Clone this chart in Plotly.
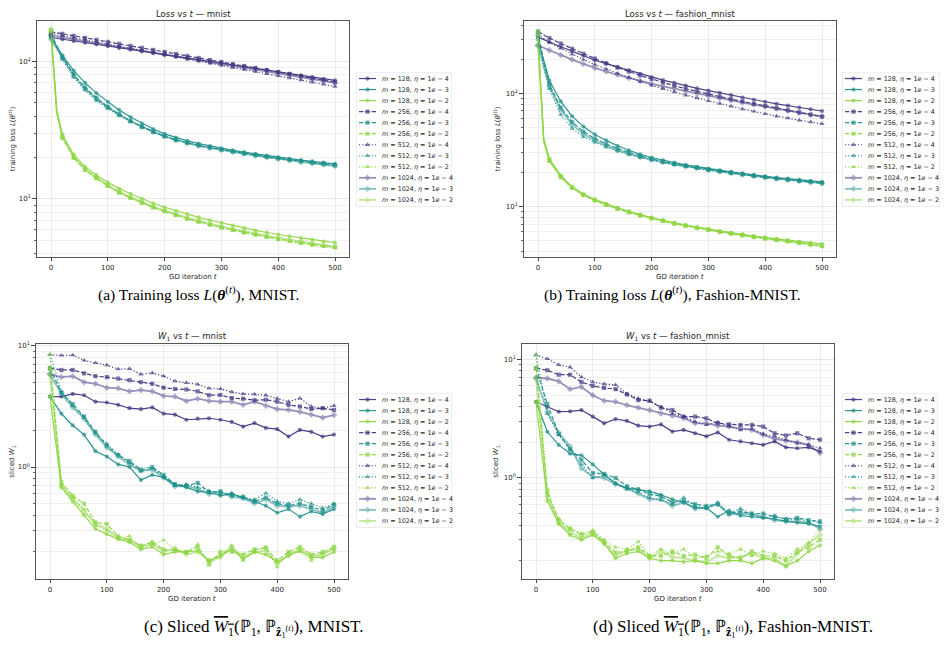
import plotly.graph_objects as go

# ---------------- data ----------------
T_LOSS = [0, 10, 20, 40, 60, 80, 100, 120, 140, 160, 180, 200, 220, 240, 260, 280, 300,
          320, 340, 360, 380, 400, 420, 440, 460, 480, 500]
T_W1 = [0, 20, 40, 60, 80, 100, 120, 140, 160, 180, 200, 220, 240, 260, 280, 300, 320,
        340, 360, 380, 400, 420, 440, 460, 480, 500]
M_VALUES = [128, 256, 512, 1024]
ETA_VALUES = ["1e-4", "1e-3", "1e-2"]
X_TICKS = [0, 100, 200, 300, 400, 500]

# (a) training loss, mnist
a_m128_e4 = [150, 147.9, 145.7, 141.6, 137.6, 133.7, 129.9, 126.2, 122.6, 119.1, 115.7, 112.4, 109.2, 106.1, 103.1, 100.2, 97.4, 94.6, 91.9, 89.3, 86.8, 84.3, 81.9, 79.6, 77.3, 75.1, 73.0]
a_m128_e3 = [150, 128, 111, 86, 70, 59, 51, 44.5, 39.5, 35.5, 32.3, 29.8, 28, 26.5, 25.3, 24.3, 23.4, 22.6, 21.9, 21.3, 20.7, 20.1, 19.6, 19.2, 18.8, 18.4, 18.0]
a_m128_e2 = [160, 45, 29.5, 21, 17.2, 14.9, 13.2, 11.9, 10.9, 10.0, 9.3, 8.7, 8.2, 7.75, 7.35, 7.0, 6.7, 6.4, 6.15, 5.9, 5.7, 5.5, 5.35, 5.2, 5.05, 4.9, 4.8]
a_m256_e4 = [165, 162.3, 159.5, 154.2, 149.1, 144.2, 139.4, 134.8, 130.3, 126.0, 121.8, 117.8, 113.9, 110.1, 106.4, 102.9, 99.5, 96.2, 93.0, 89.9, 86.9, 84.0, 81.2, 78.5, 75.9, 73.4, 71.0]
a_m256_e3 = [160, 130, 108, 81, 65, 54.5, 47, 41.5, 37, 33.7, 30.9, 28.6, 26.9, 25.6, 24.5, 23.6, 22.8, 22.1, 21.4, 20.8, 20.2, 19.7, 19.2, 18.7, 18.3, 17.9, 17.5]
a_m256_e2 = [170, 43, 28, 20, 16.4, 14.2, 12.5, 11.2, 10.2, 9.4, 8.7, 8.15, 7.65, 7.2, 6.85, 6.5, 6.2, 5.95, 5.7, 5.5, 5.3, 5.1, 4.95, 4.8, 4.65, 4.55, 4.45]
a_m512_e4 = [160, 157.2, 154.4, 149.0, 143.9, 138.9, 134.0, 129.4, 124.9, 120.5, 116.3, 112.3, 108.4, 104.6, 100.9, 97.4, 94.0, 90.8, 87.6, 84.6, 81.6, 78.8, 76.0, 73.4, 70.8, 68.4, 66.0]
a_m512_e3 = [155, 126, 104, 77, 62, 52, 45.5, 40.5, 36.5, 33.3, 30.7, 28.5, 26.9, 25.6, 24.6, 23.7, 22.9, 22.2, 21.6, 21.0, 20.4, 19.9, 19.4, 19.0, 18.6, 18.2, 17.9]
a_m512_e2 = [165, 42, 27.5, 19.7, 16.1, 14.0, 12.3, 11.0, 10.1, 9.3, 8.6, 8.05, 7.55, 7.1, 6.75, 6.45, 6.15, 5.9, 5.65, 5.45, 5.25, 5.05, 4.9, 4.75, 4.6, 4.5, 4.4]
a_m1024_e4 = [155, 152.6, 150.1, 145.4, 140.9, 136.5, 132.2, 128.1, 124.1, 120.2, 116.4, 112.8, 109.3, 105.8, 102.5, 99.3, 96.2, 93.2, 90.3, 87.4, 84.7, 82.1, 79.5, 77.0, 74.6, 72.3, 70.0]
a_m1024_e3 = [145, 124, 106, 79, 63.5, 53.5, 46.5, 41, 36.8, 33.5, 30.8, 28.6, 26.9, 25.5, 24.4, 23.5, 22.7, 22.0, 21.3, 20.7, 20.1, 19.6, 19.1, 18.6, 18.2, 17.8, 17.4]
a_m1024_e2 = [172, 44, 28.5, 20.2, 16.5, 14.3, 12.6, 11.3, 10.3, 9.5, 8.8, 8.25, 7.75, 7.3, 6.95, 6.6, 6.3, 6.05, 5.8, 5.6, 5.4, 5.2, 5.05, 4.9, 4.75, 4.6, 4.5]

# (b) training loss, fashion_mnist
b_m128_e4 = [314, 298, 283, 258, 236, 215, 196, 183, 171, 160, 149, 139, 131, 124, 117, 111, 106, 101, 96.5, 92, 88, 84.5, 81, 78, 75, 72.5, 70]
b_m128_e3 = [300, 200, 130, 85, 63, 51, 43.5, 38.5, 34.5, 31.5, 29, 27.2, 25.7, 24.5, 23.4, 22.5, 21.7, 21.0, 20.3, 19.7, 19.1, 18.6, 18.1, 17.7, 17.3, 16.9, 16.6]
b_m128_e2 = [300, 40, 26.5, 18.8, 15.0, 12.9, 11.6, 10.6, 9.8, 9.1, 8.5, 8.0, 7.6, 7.2, 6.9, 6.6, 6.35, 6.1, 5.9, 5.7, 5.5, 5.35, 5.2, 5.05, 4.9, 4.8, 4.7]
b_m256_e4 = [350, 328, 308, 276, 248, 224, 203, 185, 169, 156, 144, 134, 125, 117, 110, 104, 98.5, 93.5, 89, 85, 81, 77.5, 74, 71, 68, 65, 62.5]
b_m256_e3 = [350, 190, 120, 75, 56, 46, 40, 35.8, 32.6, 30.1, 28.0, 26.4, 25.0, 23.9, 22.9, 22.1, 21.3, 20.6, 19.9, 19.3, 18.7, 18.2, 17.7, 17.3, 16.9, 16.5, 16.1]
b_m256_e2 = [350, 38, 25.5, 18.3, 14.7, 12.7, 11.4, 10.4, 9.6, 8.95, 8.4, 7.9, 7.5, 7.1, 6.8, 6.5, 6.25, 6.0, 5.8, 5.6, 5.4, 5.25, 5.1, 4.95, 4.8, 4.65, 4.5]
b_m512_e4 = [330, 305, 283, 250, 222, 199, 180, 164, 150, 138, 127.5, 118, 110, 103, 96.5, 91, 86, 81.5, 77, 73, 69.5, 66, 63, 60.5, 58, 56, 54]
b_m512_e3 = [330, 170, 110, 65, 49, 41.5, 37, 33.6, 31, 28.9, 27.2, 25.8, 24.5, 23.5, 22.6, 21.8, 21.0, 20.3, 19.7, 19.1, 18.6, 18.1, 17.7, 17.3, 16.9, 16.6, 16.3]
b_m512_e2 = [330, 37, 25, 18.1, 14.6, 12.6, 11.3, 10.3, 9.5, 8.85, 8.3, 7.85, 7.45, 7.05, 6.75, 6.45, 6.2, 5.95, 5.75, 5.55, 5.35, 5.2, 5.05, 4.9, 4.75, 4.6, 4.45]
b_m1024_e4 = [265, 252, 240, 218, 199, 182, 168, 156, 146, 137, 129, 122, 115.5, 110, 104.5, 99.5, 95, 90.5, 86.5, 83, 79.5, 76.5, 73.5, 70.5, 67.5, 65, 62.5]
b_m1024_e3 = [265, 175, 115, 72, 53, 44, 38.5, 34.5, 31.6, 29.3, 27.5, 26.0, 24.7, 23.6, 22.7, 21.9, 21.1, 20.4, 19.8, 19.2, 18.7, 18.2, 17.7, 17.3, 16.9, 16.5, 16.2]
b_m1024_e2 = [265, 39, 26, 18.6, 14.9, 12.8, 11.5, 10.5, 9.7, 9.0, 8.45, 7.95, 7.55, 7.15, 6.85, 6.55, 6.3, 6.05, 5.85, 5.65, 5.45, 5.3, 5.15, 5.0, 4.85, 4.7, 4.55]

# (c) sliced W1, mnist
c_m128_e4 = [3.8, 3.8, 4.0, 3.9, 3.45, 3.4, 3.25, 3.05, 3.0, 3.1, 2.75, 2.7, 2.45, 2.5, 2.52, 2.45, 2.35, 2.15, 2.3, 2.1, 2.05, 1.78, 2.02, 1.95, 1.78, 1.85]
c_m128_e3 = [3.8, 2.75, 2.2, 1.85, 1.35, 1.22, 1.05, 1.0, 0.78, 0.86, 0.82, 0.72, 0.68, 0.63, 0.62, 0.58, 0.6, 0.56, 0.52, 0.48, 0.42, 0.45, 0.39, 0.43, 0.41, 0.45]
c_m128_e2 = [3.8, 0.68, 0.52, 0.40, 0.31, 0.28, 0.255, 0.24, 0.21, 0.22, 0.19, 0.2, 0.2, 0.205, 0.17, 0.185, 0.21, 0.175, 0.2, 0.19, 0.165, 0.185, 0.205, 0.18, 0.18, 0.2]
c_m256_e4 = [6.5, 6.3, 6.3, 5.9, 5.6, 5.5, 5.35, 5.2, 5.0, 4.85, 4.5, 4.4, 4.35, 4.2, 3.9, 3.92, 3.7, 3.65, 3.55, 3.58, 3.45, 3.25, 3.15, 3.0, 3.05, 2.95]
c_m256_e3 = [6.5, 4.1, 3.3, 2.6, 1.95, 1.5, 1.25, 1.12, 0.95, 1.0, 0.86, 0.72, 0.7, 0.74, 0.62, 0.63, 0.58, 0.57, 0.52, 0.56, 0.5, 0.48, 0.5, 0.47, 0.44, 0.49]
c_m256_e2 = [6.5, 0.75, 0.58, 0.5, 0.35, 0.34, 0.27, 0.25, 0.225, 0.24, 0.21, 0.205, 0.2, 0.22, 0.16, 0.2, 0.2, 0.19, 0.21, 0.215, 0.17, 0.2, 0.22, 0.19, 0.2, 0.22]
c_m512_e4 = [8.4, 8.3, 8.35, 7.55, 7.2, 6.9, 6.4, 6.45, 5.8, 5.95, 5.6, 5.1, 4.95, 4.8, 4.45, 4.4, 4.15, 4.0, 3.98, 3.9, 3.67, 3.45, 3.68, 3.15, 3.05, 3.2]
c_m512_e3 = [8.4, 4.2, 3.2, 2.55, 1.9, 1.55, 1.27, 1.08, 0.92, 0.97, 0.84, 0.7, 0.72, 0.68, 0.64, 0.6, 0.61, 0.56, 0.54, 0.61, 0.52, 0.5, 0.54, 0.5, 0.46, 0.5]
c_m512_e2 = [8.4, 0.72, 0.56, 0.45, 0.33, 0.3, 0.26, 0.27, 0.215, 0.23, 0.25, 0.21, 0.195, 0.23, 0.155, 0.19, 0.225, 0.17, 0.205, 0.22, 0.15, 0.195, 0.2, 0.17, 0.195, 0.21]
c_m1024_e4 = [5.8, 5.5, 5.6, 5.0, 4.85, 4.5, 4.45, 4.2, 4.3, 4.2, 3.85, 3.8, 3.5, 3.65, 3.5, 3.45, 3.45, 3.25, 3.45, 3.2, 3.0, 2.95, 2.85, 2.7, 2.55, 2.68]
c_m1024_e3 = [5.8, 4.0, 3.1, 2.5, 1.85, 1.45, 1.22, 1.05, 0.93, 0.95, 0.82, 0.69, 0.7, 0.66, 0.6, 0.62, 0.57, 0.55, 0.5, 0.54, 0.48, 0.47, 0.48, 0.45, 0.42, 0.47]
c_m1024_e2 = [5.8, 0.7, 0.55, 0.43, 0.34, 0.31, 0.26, 0.25, 0.22, 0.235, 0.2, 0.215, 0.19, 0.2, 0.17, 0.18, 0.22, 0.18, 0.2, 0.205, 0.16, 0.19, 0.21, 0.185, 0.19, 0.215]

# (d) sliced W1, fashion_mnist
d_m128_e4 = [4.39, 3.98, 3.62, 3.65, 3.74, 3.29, 2.89, 3.14, 3.03, 2.76, 2.71, 2.83, 2.46, 2.54, 2.38, 2.24, 2.42, 2.1, 2.03, 1.96, 1.9, 2.03, 1.81, 1.78, 1.81, 1.67]
d_m128_e3 = [4.39, 2.45, 1.9, 1.6, 1.55, 1.3, 1.07, 0.9, 0.82, 0.8, 0.77, 0.72, 0.66, 0.62, 0.56, 0.56, 0.47, 0.53, 0.48, 0.47, 0.46, 0.45, 0.43, 0.42, 0.41, 0.39]
d_m128_e2 = [4.39, 0.64, 0.41, 0.33, 0.3, 0.33, 0.28, 0.21, 0.23, 0.24, 0.21, 0.2, 0.2, 0.195, 0.2, 0.19, 0.19, 0.2, 0.2, 0.19, 0.21, 0.2, 0.18, 0.2, 0.24, 0.27]
d_m256_e4 = [8.45, 8.1, 7.43, 7.43, 6.45, 5.98, 5.75, 5.61, 5.06, 4.53, 4.48, 3.91, 3.74, 3.29, 3.29, 3.18, 2.89, 2.83, 2.8, 2.8, 2.71, 2.38, 2.28, 2.38, 2.16, 2.1]
d_m256_e3 = [8.45, 4.2, 2.35, 1.75, 1.42, 1.1, 1.08, 1.0, 0.85, 0.8, 0.73, 0.7, 0.62, 0.64, 0.6, 0.58, 0.6, 0.5, 0.52, 0.5, 0.5, 0.47, 0.45, 0.46, 0.44, 0.43]
d_m256_e2 = [8.45, 0.75, 0.44, 0.37, 0.33, 0.35, 0.29, 0.235, 0.24, 0.26, 0.22, 0.22, 0.24, 0.22, 0.225, 0.21, 0.26, 0.22, 0.21, 0.24, 0.22, 0.22, 0.2, 0.235, 0.26, 0.3]
d_m512_e4 = [10.9, 10.1, 9.0, 8.6, 7.1, 6.45, 6.2, 6.1, 5.15, 4.68, 4.45, 3.98, 3.5, 3.29, 2.98, 2.8, 2.95, 2.71, 2.54, 2.6, 2.35, 2.24, 2.1, 1.96, 1.9, 1.78]
d_m512_e3 = [10.9, 3.5, 2.3, 1.72, 1.3, 1.0, 1.05, 0.9, 0.8, 0.76, 0.68, 0.65, 0.6, 0.68, 0.58, 0.55, 0.62, 0.5, 0.55, 0.5, 0.46, 0.48, 0.44, 0.45, 0.43, 0.42]
d_m512_e2 = [10.9, 0.8, 0.45, 0.38, 0.34, 0.36, 0.3, 0.26, 0.25, 0.29, 0.22, 0.25, 0.23, 0.25, 0.21, 0.22, 0.24, 0.23, 0.25, 0.22, 0.24, 0.23, 0.21, 0.25, 0.28, 0.37]
d_m1024_e4 = [6.97, 6.9, 6.54, 5.61, 5.86, 4.99, 4.48, 4.39, 4.12, 3.91, 3.74, 3.5, 3.35, 3.2, 2.89, 2.89, 2.76, 2.71, 2.62, 2.54, 2.31, 2.14, 2.06, 2.0, 1.9, 1.62]
d_m1024_e3 = [6.97, 3.6, 2.4, 1.85, 1.2, 1.02, 1.0, 0.88, 0.82, 0.74, 0.66, 0.66, 0.58, 0.62, 0.55, 0.56, 0.6, 0.49, 0.5, 0.49, 0.47, 0.44, 0.43, 0.43, 0.42, 0.37]
d_m1024_e2 = [6.97, 0.7, 0.42, 0.35, 0.31, 0.34, 0.28, 0.22, 0.245, 0.25, 0.21, 0.24, 0.215, 0.21, 0.2, 0.195, 0.22, 0.21, 0.215, 0.23, 0.21, 0.21, 0.18, 0.23, 0.28, 0.33]

PANEL_TITLES = ["Loss vs <i>t</i> — mnist", "Loss vs <i>t</i> — fashion_mnist",
                "<i>W</i><sub>1</sub> vs <i>t</i> — mnist", "<i>W</i><sub>1</sub> vs <i>t</i> — fashion_mnist"]
Y_TITLES = ["training loss <i>L</i>(<i>θ</i><sup>(<i>t</i>)</sup>)", "training loss <i>L</i>(<i>θ</i><sup>(<i>t</i>)</sup>)",
            "sliced <i>W</i><sub>1</sub>", "sliced <i>W</i><sub>1</sub>"]
X_TITLE = "GD iteration <i>t</i>"
W1BAR = "<span style='text-decoration:overline'><i>W</i><sub>1</sub></span>"
PZ = "ℙ<sub><b>ẑ</b><sub>1</sub><sup>(<i>t</i>)</sup></sub>"
CAPTIONS = [
    "(a) Training loss <i>L</i>(<b><i>θ</i></b><sup>(<i>t</i>)</sup>), MNIST.",
    "(b) Training loss <i>L</i>(<b><i>θ</i></b><sup>(<i>t</i>)</sup>), Fashion-MNIST.",
    "(c) Sliced " + W1BAR + "(ℙ<sub>1</sub>, " + PZ + "), MNIST.",
    "(d) Sliced " + W1BAR + "(ℙ<sub>1</sub>, " + PZ + "), Fashion-MNIST.",
]

DATA = {}
for key in ["a", "b", "c", "d"]:
    for m in M_VALUES:
        for eta in ETA_VALUES:
            DATA[(key, m, eta)] = globals()[f"{key}_m{m}_e{eta[-1]}"]

# ---------------- styling ----------------
W, H = 945, 651
COLORS = {"1e-4": "#443983", "1e-3": "#21918c", "1e-2": "#8fd744"}
STYLE = {
    128: dict(dash="solid", symbol="circle", width=1.2, opacity=0.95, size=4.2),
    256: dict(dash="4.4px,1.9px", symbol="square", width=1.2, opacity=0.95, size=4.2),
    512: dict(dash="1.2px,2px", symbol="triangle-up", width=1.2, opacity=0.95, size=4.8),
    1024: dict(dash="solid", symbol="diamond", width=1.8, opacity=0.55, size=5.0),
}
FONT = "DejaVu Sans"
TXT = "#262626"


def px_x(l, r):
    return [l / W, r / W]


def px_y(top, bot):
    return [1 - bot / H, 1 - top / H]


def minor_vals(lo, hi):
    out = []
    for d in range(lo, hi):
        for k in range(2, 10):
            out.append(k * 10 ** d)
    return out


PANELS = [
    dict(key="a", xb=(36.8, 349.2), yb=(17, 255), yr=[0.574, 2.297], yt=[10, 100],
         ytt=["10<sup>1</sup>", "10<sup>2</sup>"], minor=minor_vals(0, 3), t=T_LOSS,
         lg=(356, 452, 69, 204), ytx=12, cap=(198, 291), capsize=15.5),
    dict(key="b", xb=(523.8, 836.2), yb=(17, 255), yr=[0.553, 2.64], yt=[10, 100],
         ytt=["10<sup>1</sup>", "10<sup>2</sup>"], minor=minor_vals(0, 3), t=T_LOSS,
         lg=(842, 940, 69, 204), ytx=497, cap=(672, 291), capsize=15.5),
    dict(key="c", xb=(35.8, 348.2), yb=(342, 579), yr=[-0.926, 1.014], yt=[1, 10],
         ytt=["10<sup>0</sup>", "10<sup>1</sup>"], minor=minor_vals(-1, 2), t=T_W1,
         lg=(356, 452, 392, 527), ytx=12, cap=(254, 628), capsize=17),
    dict(key="d", xb=(521.8, 834.2), yb=(342, 579), yr=[-0.857, 1.131], yt=[1, 10],
         ytt=["10<sup>0</sup>", "10<sup>1</sup>"], minor=minor_vals(-1, 2), t=T_W1,
         lg=(842, 938, 392, 527), ytx=496, cap=(733, 628), capsize=17),
]

fig = go.Figure()
annotations = []
shapes = []
layout_axes = {}

for i, p in enumerate(PANELS):
    n = i + 1
    xa = "x" if n == 1 else f"x{n}"
    ya = "y" if n == 1 else f"y{n}"
    lxn = n + 4
    lx, ly = f"x{lxn}", f"y{lxn}"
    xname = "xaxis" if n == 1 else f"xaxis{n}"
    yname = "yaxis" if n == 1 else f"yaxis{n}"

    layout_axes[xname] = dict(
        domain=px_x(*p["xb"]), anchor=ya, range=[-25, 525], tickmode="array", tickvals=X_TICKS,
        ticks="outside", ticklen=3, tickwidth=0.8, tickcolor="#444",
        tickfont=dict(family=FONT, size=7, color=TXT), showgrid=True, gridcolor="#ebebeb",
        gridwidth=0.8, showline=True, mirror=True, linecolor="#555", linewidth=1,
        zeroline=False, fixedrange=True)
    layout_axes[yname] = dict(
        domain=px_y(*p["yb"]), anchor=xa, type="log", range=p["yr"], tickmode="array",
        tickvals=p["yt"], ticktext=p["ytt"], ticks="outside", ticklen=3.5, tickwidth=0.8,
        tickcolor="#444", tickfont=dict(family=FONT, size=7, color=TXT), showgrid=True,
        gridcolor="#e6e6e6", gridwidth=0.8, showline=True, mirror=True, linecolor="#555",
        linewidth=1, zeroline=False, fixedrange=True,
        minor=dict(tickmode="array", tickvals=p["minor"], ticks="outside", ticklen=2,
                   tickwidth=0.6, tickcolor="#666", showgrid=True, gridcolor="#f0f0f0",
                   gridwidth=0.8))

    lg_x0, lg_x1, lg_y0, lg_y1 = p["lg"]
    lw, lh = lg_x1 - lg_x0, lg_y1 - lg_y0
    layout_axes[f"xaxis{lxn}"] = dict(domain=px_x(lg_x0, lg_x1), anchor=ly, range=[0, lw],
                                      visible=False, fixedrange=True)
    layout_axes[f"yaxis{lxn}"] = dict(domain=px_y(lg_y0, lg_y1), anchor=lx, range=[lh, 0],
                                      visible=False, fixedrange=True)
    shapes.append(dict(type="rect", xref=lx, yref=ly, x0=0, x1=lw, y0=0, y1=lh,
                       line=dict(color="#d6d6d6", width=0.8), fillcolor="white", layer="below"))

    k = 0
    for m in M_VALUES:
        for eta in ETA_VALUES:
            st = STYLE[m]
            col = COLORS[eta]
            yv = DATA[(p["key"], m, eta)]
            sizes = [st["size"] if tt % 20 == 0 else 0 for tt in p["t"]]
            fig.add_trace(go.Scatter(
                x=p["t"], y=yv, xaxis=xa, yaxis=ya, mode="lines+markers",
                line=dict(color=col, width=st["width"], dash=st["dash"]),
                marker=dict(symbol=st["symbol"], size=sizes, color=col, line=dict(width=0)),
                opacity=st["opacity"], showlegend=False, hoverinfo="skip"))
            # legend sample
            yy = 6 + 11.1 * k
            fig.add_trace(go.Scatter(
                x=[3, 11.5, 20], y=[yy, yy, yy], xaxis=lx, yaxis=ly, mode="lines+markers",
                line=dict(color=col, width=st["width"], dash=st["dash"]),
                marker=dict(symbol=st["symbol"], size=[0, st["size"], 0], color=col,
                            line=dict(width=0)),
                opacity=st["opacity"], showlegend=False, hoverinfo="skip"))
            annotations.append(dict(
                xref=lx, yref=ly, x=23.5, y=yy, xanchor="left", yanchor="middle", showarrow=False,
                text=f"<i>m</i> = {m}, <i>η</i> = 1<i>e</i> − {eta[-1]}",
                font=dict(family=FONT, size=6.4, color=TXT)))
            k += 1

    cx = (p["xb"][0] + p["xb"][1]) / 2
    cy = (p["yb"][0] + p["yb"][1]) / 2
    annotations.append(dict(xref="paper", yref="paper", x=cx / W, y=1 - (p["yb"][0] - 7) / H,
                            xanchor="center", yanchor="middle", showarrow=False,
                            text=PANEL_TITLES[i], font=dict(family=FONT, size=8.5, color=TXT)))
    annotations.append(dict(xref="paper", yref="paper", x=cx / W, y=1 - (p["yb"][1] + 20) / H,
                            xanchor="center", yanchor="middle", showarrow=False,
                            text=X_TITLE, font=dict(family=FONT, size=7, color=TXT)))
    annotations.append(dict(xref="paper", yref="paper", x=p["ytx"] / W, y=1 - cy / H,
                            xanchor="center", yanchor="middle", showarrow=False, textangle=-90,
                            text=Y_TITLES[i], font=dict(family=FONT, size=7, color=TXT)))
    annotations.append(dict(xref="paper", yref="paper", x=p["cap"][0] / W, y=1 - p["cap"][1] / H,
                            xanchor="center", yanchor="middle", showarrow=False,
                            text=CAPTIONS[i],
                            font=dict(family="Liberation Serif", size=p["capsize"], color="black")))

fig.update_layout(
    width=W, height=H, margin=dict(l=0, r=0, t=0, b=0),
    paper_bgcolor="white", plot_bgcolor="white", showlegend=False,
    annotations=annotations, shapes=shapes, **layout_axes)

fig.write_html("out.html")
